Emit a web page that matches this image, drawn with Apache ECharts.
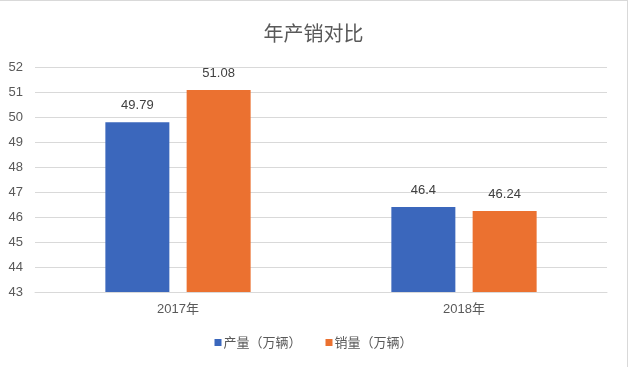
<!DOCTYPE html>
<html><head><meta charset="utf-8">
<script src="https://cdn.jsdelivr.net/npm/echarts@6/dist/echarts.min.js"></script>
<style>
html,body{margin:0;padding:0;background:#fff;}
#c{width:628px;height:367px;box-sizing:border-box;border-top:1px solid #d9d9d9;border-right:1px solid #d9d9d9;}
</style></head>
<body><div id="c"></div>
<script>
const title = '年产销对比';
const categories = ['2017年', '2018年'];
const seriesNames = ['产量（万辆）', '销量（万辆）'];
const production = [49.79, 46.4];
const sales = [51.08, 46.24];
const yMin = 43, yMax = 52, yInterval = 1;

const FONT = '"Liberation Sans", "Noto Sans CJK SC", sans-serif';
const chart = echarts.init(document.getElementById('c'));
const labelCfg = {show: true, position: 'top', distance: 10, color: '#404040', fontSize: 13, fontFamily: FONT};
chart.setOption({
  animation: false,
  title: {text: title, left: 'center', top: 17, textStyle: {fontSize: 20, fontWeight: 'normal', color: '#595959', fontFamily: '"Noto Sans CJK SC", sans-serif'}},
  legend: {bottom: 13, left: 'center', itemWidth: 7, itemHeight: 7, itemGap: 24, icon: 'rect',
    textStyle: {fontSize: 13, color: '#595959', fontFamily: '"Noto Sans CJK SC", sans-serif', padding: [0,0,0,-3]}},
  grid: {left: 35, right: 20, top: 66, bottom: 75, containLabel: false},
  xAxis: {type: 'category', data: categories,
    axisLine: {lineStyle: {color: '#d9d9d9'}}, axisTick: {show: false},
    axisLabel: {color: '#595959', fontSize: 13, margin: 11, fontFamily: FONT}},
  yAxis: {type: 'value', min: yMin, max: yMax, interval: yInterval,
    axisLine: {show: false}, axisTick: {show: false},
    splitLine: {lineStyle: {color: '#d9d9d9'}},
    axisLabel: {color: '#595959', fontSize: 13, margin: 12, fontFamily: FONT}},
  series: [
    {name: seriesNames[0], type: 'bar', data: production, barWidth: 64, barGap: '27%', itemStyle: {color: '#3B67BC'}, label: labelCfg},
    {name: seriesNames[1], type: 'bar', data: sales, barWidth: 64, itemStyle: {color: '#EB7130'}, label: labelCfg}
  ]
});
</script></body></html>
